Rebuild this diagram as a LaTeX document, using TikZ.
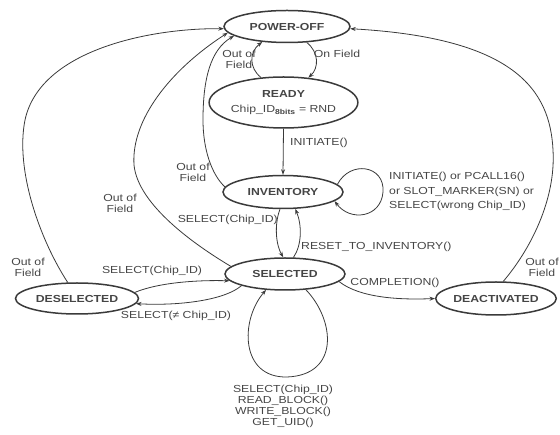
\documentclass[tikz,border=0pt]{standalone}
\usepackage{fontspec}
\setmainfont{Liberation Sans}[FakeStretch=1.2]
\usetikzlibrary{arrows.meta,shapes.geometric}
\definecolor{ln}{HTML}{3A3A3A}
\definecolor{tx}{HTML}{454545}
\begin{document}
\begin{tikzpicture}[x=1pt,y=-1pt,
  state/.style={ellipse, draw=ln, line width=1.5pt, inner sep=0pt, align=center,
    font=\fontsize{10.2}{16}\selectfont\bfseries, text=tx},
  conn/.style={draw=ln, line width=0.8pt, -{Stealth[length=5.5pt,width=4pt]}},
  lbl/.style={font=\fontsize{10.2}{11}\selectfont, text=tx, inner sep=0pt, align=center}]
\useasboundingbox (0,0) rectangle (560,435);

% states
\node[state, minimum width=126pt, minimum height=32pt] (pwr) at (287,26.5) {POWER-OFF};
\node[state, minimum width=117pt, minimum height=51pt] (ready) at (283.5,102.5)
  {READY\\[-1pt]{\mdseries Chip\_ID\textsubscript{\bfseries 8bits} = RND}};
\node[state, minimum width=120pt, minimum height=33pt] (inv) at (283,192) {INVENTORY};
\node[state, minimum width=120pt, minimum height=32pt] (sel) at (285,274) {SELECTED};
\node[state, minimum width=123pt, minimum height=31pt] (desel) at (77,298.5) {DESELECTED};
\node[state, minimum width=118pt, minimum height=33pt] (deact) at (496,298.5) {DEACTIVATED};

% power-off <-> ready
\draw[conn] (ready.132) .. controls (249,68) and (249,52) .. (pwr.212);
\draw[conn] (pwr.321) .. controls (319,52) and (319,68) .. (ready.45);
\node[lbl] (l1) at (239,59) {Out of\\Field};
\node[lbl] (l2) at (337,54) {On Field};

% ready -> inventory
\draw[conn] (ready.south) -- (inv.north);
\node[lbl, anchor=west] (l3) at (290,143) {INITIATE()};

% inventory self loop
\draw[conn] (inv.8) .. controls (350,160) and (385,165) .. (383,192)
  .. controls (381,218) and (350,222) .. (inv.-10);
\node[lbl, anchor=west, align=left, font=\fontsize{10.2}{14.5}\selectfont] (l4) at (389,191.5)
  {INITIATE() or PCALL16()\\or SLOT\_MARKER(SN) or\\SELECT(wrong Chip\_ID)};

% inventory -> power-off
\draw[conn] (inv.175) .. controls (212,175) and (203,150) .. (203,120)
  .. controls (203,80) and (210,50) .. (pwr.190);
\node[lbl] (l5) at (193,172) {Out of\\Field};

% selected -> power-off
\draw[conn] (sel.172) .. controls (195,245) and (138,205) .. (134,165)
  .. controls (131,120) and (170,70) .. (pwr.186);
\node[lbl] (l6) at (120,203) {Out of\\Field};

% deselected -> power-off
\draw[conn] (desel.120) .. controls (40,240) and (15,170) .. (25,120)
  .. controls (40,50) and (150,28) .. (pwr.182);
\node[lbl] (l7) at (28,267) {Out of\\Field};

% deactivated -> power-off
\draw[conn] (deact.67) .. controls (530,250) and (556,200) .. (553,150)
  .. controls (550,90) and (515,38) .. (pwr.358);
\node[lbl] (l8) at (542,267) {Out of\\Field};

% inventory <-> selected
\draw[conn] (inv.260) .. controls (274,225) and (276,245) .. (sel.96);
\draw[conn] (sel.63) .. controls (302,245) and (302,225) .. (inv.-54);
\node[lbl, anchor=east] (l9) at (278,220) {SELECT(Chip\_ID)};
\node[lbl, anchor=west] (l10) at (301,247) {RESET\_TO\_INVENTORY()};

% deselected <-> selected
\draw[conn] (desel.6) .. controls (160,282) and (200,280) .. (sel.187);
\draw[conn] (sel.195) .. controls (225,300) and (180,306) .. (desel.-5);
\node[lbl] (l11) at (152,271) {SELECT(Chip\_ID)};
\node[lbl] (l12) at (176,316) {SELECT(≠ Chip\_ID)};

% selected -> deactivated
\draw[conn] (sel.-8) .. controls (360,298) and (400,300) .. (deact.west);
\node[lbl] (l13) at (395,283) {COMPLETION()};

% selected self loop
\draw[conn] (sel.-37) .. controls (335,320) and (340,375) .. (287,377)
  .. controls (240,378) and (240,320) .. (sel.220);
\node[lbl] (l14) at (283,406.5)
  {SELECT(Chip\_ID)\\READ\_BLOCK()\\WRITE\_BLOCK()\\GET\_UID()};
\end{tikzpicture}
\end{document}
